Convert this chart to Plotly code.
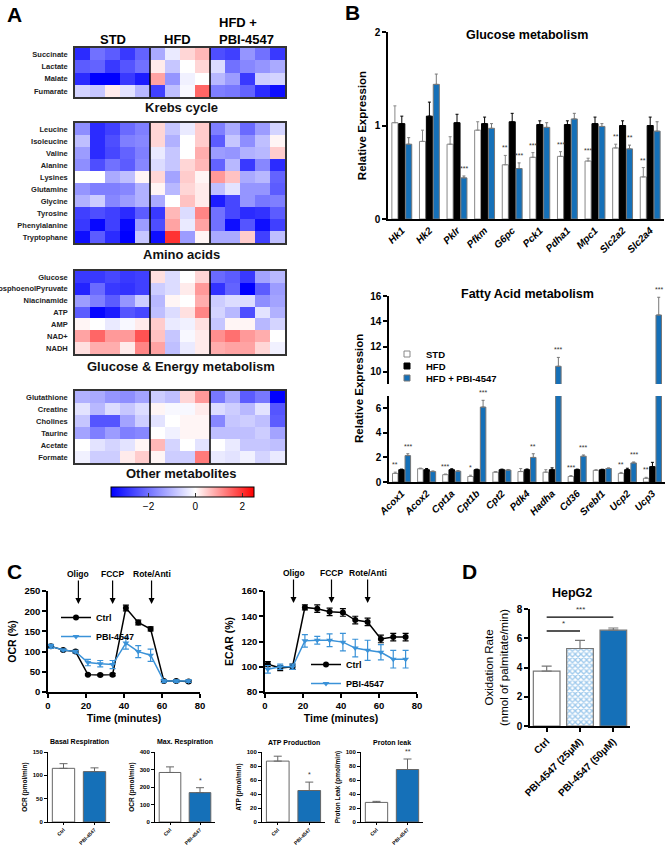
import plotly.graph_objects as go

W, H = 669, 846
FONT = "Liberation Sans, Arial, sans-serif"
BLUE = "#1570b8"
LBLUE = "#3a92d8"

# ---------------- Panel A data ----------------
groups_hm = ["STD"] * 5 + ["HFD"] * 4 + ["PBI"] * 5
krebs_rows = ["Succinate", "Lactate", "Malate", "Fumarate"]
krebs_z = [
    [-3, -2, -2.3, -2.8, -2.2, -1.2, -0.3, 0.4, 0.7, -2.5, -2.7, -1.5, -2, -2.8],
    [-2.3, -2.2, -2.8, -2.4, -2, 0.2, -0.8, 0, 0.4, -0.5, -2, -1.7, -1.5, -1.2],
    [-3, -3.6, -3.6, -2.8, -3.2, 0.9, -1.5, -0.2, 0, -1, -1.4, -2.8, -0.7, -0.6],
    [-0.6, -0.8, 0.2, -0.4, -1, -2.7, -0.9, -0.1, 1.5, -1.8, -1.9, -2.2, -3, -3.4],
]
amino_rows = ["Leucine", "Isoleucine", "Valine", "Alanine", "Lysines", "Glutamine",
              "Glycine", "Tyrosine", "Phenylalanine", "Tryptophane"]
amino_z = [
    [-1.6, -3, -2.7, -2.1, -1.8, 0.4, -0.8, -0.3, 0.5, -1.8, -1.2, -2.1, -1.4, -0.6],
    [-0.9, -3, -2.5, -1.8, -1.7, 0.4, -1.1, 0, 0.5, -2.3, -0.8, -1.6, -0.9, 0.1],
    [-1.4, -3, -2.6, -2.2, -1.8, -0.3, -0.8, 0, 0.8, -1.4, -1.5, -1.1, -1, 0.5],
    [-1.6, -2.5, -2, -2.3, -1.7, -0.5, -0.8, 0.4, 0.7, -2.2, -1, -2.8, -1.7, -3],
    [0, 0, -1.2, -0.9, 0.1, 0.4, -1.3, 0.5, 0.1, 1, 0.6, -1.2, -1, -2.2],
    [-1.5, -1.8, -1.8, -1.7, -1.1, 0.1, -1, 0.4, 0.2, -0.9, -0.4, -1.5, -1.5, -2.3],
    [-1.1, -0.7, -1.7, -1.4, -1.1, -1.2, 0, 0.6, 0.2, -3.2, -2.6, -1.5, -1.9, -1.8],
    [-2.7, -2.5, -2.7, -3, -2.3, -2.8, 0.7, -0.5, 1.2, -2, -2.6, -3, -2.9, -2.3],
    [-2.8, -3.5, -2.7, -3.5, -1.4, -2.5, 0.9, -0.3, 0.9, -2, -3.4, -2.4, -3.4, -2.7],
    [-3.4, -2.3, -3, -3.6, -0.8, -3.4, 2, -1.4, 0.1, -1.2, -1.2, 0.5, -2.7, -0.9],
]
energy_rows = ["Glucose", "PhosphoenolPyruvate", "Niacinamide", "ATP", "AMP", "NAD+", "NADH"]
energy_z = [
    [-2.8, -2.8, -2.6, -2.8, -2.7, 0.3, -0.5, 0, 0.4, -2.1, -2.3, -2.8, -1.3, -1],
    [-3.1, -2.1, -2.8, -2.9, -2.7, -0.7, -0.5, 0.2, 1, -2.9, -2.2, -3.6, -2.3, -1.4],
    [-1.4, -1.8, -2.3, -1.5, -0.7, -1, 0.1, 0, 0.8, -0.7, -0.5, -0.5, -1.6, -1.3],
    [-2.3, -3.5, -3.2, -2.4, -2.6, -0.9, -0.5, 0.3, 1.2, -0.6, -1, -2.5, -0.4, -1.1],
    [0.1, 0, -0.3, -0.1, 0.2, 0.5, -0.3, -0.2, 0.3, -0.8, 0.1, 0.1, -1, -0.6],
    [0.9, 1.5, 1, 1, 1.7, 0.6, -0.8, -0.1, 0.2, 1.1, 1.4, 1, 0.8, 0],
    [0.3, 0.8, 0.8, 0.2, 1.2, 0.9, -0.9, -0.3, 0.2, 0.8, 0.9, 0.9, 0.4, -0.2],
]
other_rows = ["Glutathione", "Creatine", "Cholines", "Taurine", "Acetate", "Formate"]
other_z = [
    [-1.1, -1.2, -1.5, -1.6, -1.3, -0.7, -0.9, 0.4, 1, -1.9, -1.2, -2.3, -1.9, -3.6],
    [-0.4, -1, -0.5, -0.8, -0.5, 0.1, -0.1, -0.1, 0.2, -0.5, -0.7, -1, -0.4, -2.4],
    [-0.8, -2.4, -2.4, -1.3, -0.7, -0.4, 0, 0.1, 0.1, -1.7, -0.8, -0.7, -0.9, -2.3],
    [-1.3, -1.8, -1.4, -1.8, -1.7, 0, -0.2, 0.1, 0.1, -0.9, -0.9, -0.9, -0.7, -1.3],
    [0, -0.4, -0.6, -0.4, 0.1, 0.7, -0.6, 0, -0.4, 0, -0.3, -0.8, -0.8, -0.9],
    [-0.2, -0.7, -0.7, 0.2, 0.5, 0.1, -0.7, -0.7, 1.3, -0.3, -0.4, -0.2, -0.6, -0.3],
]
hm_titles = ["Krebs cycle", "Amino acids", "Glucose & Energy metabolism", "Other metabolites"]
colorbar_ticks = [-2, 0, 2]

# ---------------- Panel B data ----------------
glu_genes = ["Hk1", "Hk2", "Pklr", "Pfkm", "G6pc", "Pck1", "Pdha1", "Mpc1", "Slc2a2", "Slc2a4"]
glu_std = [1.03, 0.83, 0.80, 0.95, 0.58, 0.66, 0.67, 0.62, 0.76, 0.45]
glu_std_err = [0.18, 0.12, 0.08, 0.09, 0.10, 0.05, 0.05, 0.03, 0.04, 0.10]
glu_hfd = [1.02, 1.10, 1.03, 1.02, 1.04, 1.01, 1.01, 1.02, 1.00, 1.00]
glu_hfd_err = [0.08, 0.15, 0.09, 0.07, 0.09, 0.04, 0.04, 0.07, 0.05, 0.09]
glu_pbi = [0.80, 1.44, 0.44, 0.97, 0.54, 0.98, 1.07, 0.99, 0.75, 0.94]
glu_pbi_err = [0.07, 0.11, 0.02, 0.05, 0.06, 0.05, 0.06, 0.03, 0.04, 0.10]
glu_sig_std = ["", "", "", "", "**", "***", "***", "***", "**", "**"]
glu_sig_pbi = ["", "", "***", "", "***", "", "", "", "**", ""]

fa_genes = ["Acox1", "Acox2", "Cpt1a", "Cpt1b", "Cpt2", "Pdk4", "Hadha", "Cd36", "Srebf1", "Ucp2", "Ucp3"]
fa_std = [0.70, 1.08, 0.60, 0.45, 0.80, 0.85, 0.80, 0.45, 0.95, 0.70, 0.30]
fa_std_err = [0.10, 0.05, 0.05, 0.10, 0.05, 0.25, 0.20, 0.08, 0.05, 0.08, 0.08]
fa_hfd = [1.00, 1.00, 1.00, 1.00, 1.00, 1.00, 1.00, 1.00, 1.00, 1.00, 1.25]
fa_hfd_err = [0.05, 0.10, 0.08, 0.05, 0.05, 0.06, 0.15, 0.05, 0.04, 0.12, 0.35]
fa_pbi = [2.15, 0.85, 0.88, 6.10, 0.97, 2.00, 10.45, 2.10, 1.10, 1.55, 14.5]
fa_pbi_err = [0.15, 0.05, 0.04, 0.55, 0.05, 0.30, 0.70, 0.10, 0.05, 0.08, 1.40]
fa_sig_std = ["**", "", "***", "*", "", "", "", "***", "", "**", "**"]
fa_sig_pbi = ["***", "", "", "***", "", "**", "***", "***", "", "***", "***"]
legend_names = ["STD", "HFD", "HFD + PBI-4547"]

# ---------------- Panel C data ----------------
time_min = [1.5, 8, 14.5, 21, 27.5, 34, 41, 47.5, 54, 61, 67.5, 74]
ocr_ctrl = [113, 104, 100, 43, 42, 43, 208, 172, 156, 27, 27, 26]
ocr_ctrl_err = [4, 3, 3, 2, 2, 3, 7, 6, 5, 3, 3, 3]
ocr_pbi = [113, 104, 100, 73, 70, 68, 121, 100, 91, 27, 27, 27]
ocr_pbi_err = [5, 2, 3, 8, 8, 10, 15, 15, 15, 3, 3, 3]
ecar_ctrl = [102, 99, 100, 147, 146, 143.5, 143, 137, 135.5, 122, 123.5, 123.5]
ecar_ctrl_err = [2, 2, 2, 2, 3, 3, 3, 3, 3, 3, 3, 3]
ecar_pbi = [98, 100, 100, 120.5, 121, 121, 119.5, 114.8, 113, 111.5, 106, 106]
ecar_pbi_err = [3, 2, 2, 5, 3, 5, 7, 7, 8, 6, 7, 7]
injections = ["Oligo", "FCCP", "Rote/Anti"]
inj_time_ocr = [16, 34, 54.5]
inj_time_ecar = [15, 35, 54]

small_titles = ["Basal Respiration", "Max. Respiration", "ATP Production", "Proton leak"]
small_ylabels = ["OCR (pmol/min)", "OCR (pmol/min)", "ATP (pmol/min)", "Proton Leak (pmol/min)"]
small_groups = ["Ctrl", "PBI-4547"]
small_vals = [[115, 108], [283, 168], [87, 45], [28, 75]]
small_errs = [[10, 8], [32, 28], [7, 12], [1.5, 15]]
small_sig = [["", ""], ["", "*"], ["", "*"], ["", "**"]]
small_ymax = [150, 400, 100, 100]
small_dtick = [50, 100, 20, 20]

# ---------------- Panel D data ----------------
d_groups = ["Ctrl", "PBI-4547 (25μM)", "PBI-4547 (50μM)"]
d_vals = [3.75, 5.3, 6.55]
d_errs = [0.35, 0.55, 0.15]
d_sig = [(0, 1, 6.5, "*", "#555555"), (0, 2, 7.45, "***", "black")]


def dx(a, b):
    return [a / W, b / W]


def dy(top, bot):
    return [1 - bot / H, 1 - top / H]


def px(x):
    return x / W


def py(y):
    return 1 - y / H


fig = go.Figure()
layout = dict(
    width=W, height=H, autosize=False, template="none",
    margin=dict(l=0, r=0, t=0, b=0),
    paper_bgcolor="white", plot_bgcolor="white",
    font=dict(family=FONT, color="black"),
    showlegend=True,
    barmode="group",
)
annotations = []
shapes = []


def ann(text, x, y, size, **kw):
    d = dict(text=text, xref="paper", yref="paper", x=px(x), y=py(y), showarrow=False,
             font=dict(size=size, color=kw.pop("color", "black")), xanchor=kw.pop("xanchor", "center"),
             yanchor=kw.pop("yanchor", "middle"))
    d.update(kw)
    annotations.append(d)


# ---------------- Panel A: heatmaps ----------------
hm_blocks = [(krebs_rows, krebs_z, 48, 97), (amino_rows, amino_z, 123, 243),
             (energy_rows, energy_z, 271, 354), (other_rows, other_z, 391, 463)]
title_y = [107, 254, 366, 473]
for i, (rows, z, top, bot) in enumerate(hm_blocks):
    n = i + 1
    xa, ya = ("x" if n == 1 else f"x{n}"), ("y" if n == 1 else f"y{n}")
    fig.add_trace(go.Heatmap(z=z, x=list(range(len(groups_hm))), y=rows, coloraxis="coloraxis",
                             xaxis=xa, yaxis=ya, hoverinfo="skip"))
    layout[f"xaxis{'' if n == 1 else n}"] = dict(
        domain=dx(75, 285), anchor=ya, showticklabels=False, ticks="", showgrid=False,
        zeroline=False, showline=True, mirror=True, linecolor="#333", linewidth=1.5,
        range=[-0.5, 13.5], automargin=False)
    layout[f"yaxis{'' if n == 1 else n}"] = dict(
        domain=dy(top, bot), anchor=xa, autorange="reversed", tickvals=rows,
        ticktext=[f"<b>{r}</b>" for r in rows], tickfont=dict(size=7.5, color="#222"),
        ticks="", showgrid=False, zeroline=False, showline=True, mirror=True,
        linecolor="#333", linewidth=1.5, automargin=False, ticklabelstandoff=4)
    for xv in (4.5, 8.5):
        shapes.append(dict(type="line", xref=xa, yref=f"{ya} domain", x0=xv, x1=xv, y0=0, y1=1,
                           line=dict(color="black", width=1.5)))
    ann(f"<b>{hm_titles[i]}</b>", 181, title_y[i], 13, color="#111")

layout["coloraxis"] = dict(
    cmin=-3.6, cmax=2.5,
    colorscale=[[0, "rgb(0,0,255)"], [3.6 / 6.1, "rgb(255,255,255)"], [1, "rgb(255,0,0)"]],
    colorbar=dict(orientation="h", x=px(182.5), xanchor="center", y=py(502), yanchor="middle",
                  len=143 / W, lenmode="fraction", thickness=10, thicknessmode="pixels",
                  tickvals=colorbar_ticks, ticks="inside", ticklen=4, tickcolor="#333",
                  outlinewidth=1, outlinecolor="black", tickfont=dict(size=10), ypad=0, xpad=0))

ann("<b>STD</b>", 113, 39, 13)
ann("<b>HFD</b>", 177, 39, 13)
ann("<b>HFD +<br>PBI-4547</b>", 217, 31, 13, xanchor="left", align="left")

# ---------------- Panel B: glucose ----------------
bar_styles = [("white", "#888888", "#888888"), ("black", "black", "black"), (BLUE, "#777777", "#777777")]
glu_data = [(glu_std, glu_std_err), (glu_hfd, glu_hfd_err), (glu_pbi, glu_pbi_err)]
for name, (fc, lc, ec), (v, e) in zip(legend_names, bar_styles, glu_data):
    fig.add_trace(go.Bar(x=glu_genes, y=v, xaxis="x5", yaxis="y5",
                         marker=dict(color=fc, line=dict(color=lc, width=1)),
                         error_y=dict(type="data", array=e, arrayminus=[0] * len(e), symmetric=False,
                                      color=ec, thickness=1, width=1.5),
                         showlegend=False, name=name))
axis_common = dict(showgrid=False, zeroline=False, showline=True, linecolor="black", linewidth=1.5,
                   ticks="outside", ticklen=4, tickwidth=1.5, tickcolor="black", automargin=False)
layout["xaxis5"] = dict(axis_common, domain=dx(388, 664), anchor="y5", tickangle=-45,
                        tickvals=glu_genes, ticktext=[f"<b><i>{g}</i></b>" for g in glu_genes],
                        tickfont=dict(size=10), ticks="", range=[-0.5, len(glu_genes) - 0.5])
layout["yaxis5"] = dict(axis_common, domain=dy(32, 219), anchor="x5", range=[0, 2], tickvals=[0, 1, 2],
                        ticktext=["<b>0</b>", "<b>1</b>", "<b>2</b>"], tickfont=dict(size=10),
                        title=dict(text="<b>Relative Expression</b>", font=dict(size=11.5), standoff=6))
layout["bargap"] = 0.25
layout["bargroupgap"] = 0.12
ann("<b>Glucose metabolism</b>", 527, 35, 12.5)
for sigs, vals, errs, shift in [(glu_sig_std, glu_std, glu_std_err, -6.9), (glu_sig_pbi, glu_pbi, glu_pbi_err, 6.9)]:
    for g, s, v, e in zip(glu_genes, sigs, vals, errs):
        if s:
            annotations.append(dict(text=s, xref="x5", yref="y5", x=g, y=v + e, xshift=shift, yshift=2,
                                    showarrow=False, font=dict(size=7, color="#333"),
                                    xanchor="center", yanchor="bottom"))

# ---------------- Panel B: fatty acid (broken axis) ----------------
fa_data = [(fa_std, fa_std_err), (fa_hfd, fa_hfd_err), (fa_pbi, fa_pbi_err)]
for ya in ["y6", "y7"]:
    for name, (fc, lc, ec), (v, e) in zip(legend_names, bar_styles, fa_data):
        fig.add_trace(go.Bar(x=fa_genes, y=v, xaxis="x6", yaxis=ya,
                             marker=dict(color=fc, line=dict(color=lc, width=1)),
                             error_y=dict(type="data", array=e, arrayminus=[0] * len(e), symmetric=False,
                                          color=ec, thickness=1, width=1.5),
                             showlegend=False, name=name))
layout["xaxis6"] = dict(axis_common, domain=dx(389, 665), anchor="y6", tickangle=-45,
                        tickvals=fa_genes, ticktext=[f"<b><i>{g}</i></b>" for g in fa_genes],
                        tickfont=dict(size=10), ticks="", range=[-0.5, len(fa_genes) - 0.5])
layout["yaxis6"] = dict(axis_common, domain=dy(396, 482), anchor="x6", range=[0, 7],
                        tickvals=[0, 2, 4, 6], ticktext=["<b>0</b>", "<b>2</b>", "<b>4</b>", "<b>6</b>"],
                        tickfont=dict(size=10))
layout["yaxis7"] = dict(axis_common, domain=dy(296, 384), anchor="x6", range=[9.05, 16],
                        tickvals=[10, 12, 14, 16],
                        ticktext=["<b>10</b>", "<b>12</b>", "<b>14</b>", "<b>16</b>"], tickfont=dict(size=10))
ann("<b>Relative Expression</b>", 359, 389, 11.5, textangle=-90)
ann("<b>Fatty Acid metabolism</b>", 527, 294, 12.5)
for sigs, vals, errs, shift in [(fa_sig_std, fa_std, fa_std_err, -6.3), (fa_sig_pbi, fa_pbi, fa_pbi_err, 6.3)]:
    for g, s, v, e in zip(fa_genes, sigs, vals, errs):
        if s:
            top = v + e
            annotations.append(dict(text=s, xref="x6", yref="y7" if top > 9 else "y6", x=g, y=top,
                                    xshift=shift, yshift=2, showarrow=False,
                                    font=dict(size=7, color="#333"), xanchor="center", yanchor="bottom"))
# legend for the bar groups (swatch + label)
for k, (name, (fc, lc, ec)) in enumerate(zip(legend_names, bar_styles)):
    yc = 354 + 12 * k
    shapes.append(dict(type="rect", xref="paper", yref="paper", x0=px(404), x1=px(410),
                       y0=py(yc + 3), y1=py(yc - 3), fillcolor=fc,
                       line=dict(color=lc if k != 1 else "black", width=1)))
    ann(f"<b>{name}</b>", 424, yc, 9.5, xanchor="left")

# ---------------- Panel C: OCR & ECAR ----------------
def line_traces(xa, ya, ctrl, ctrl_e, pbi, pbi_e, leg):
    fig.add_trace(go.Scatter(x=time_min, y=ctrl, xaxis=xa, yaxis=ya, mode="lines+markers", name="<b>Ctrl</b>",
                             line=dict(color="black", width=1.5), marker=dict(symbol="circle", size=6, color="black"),
                             error_y=dict(type="data", array=ctrl_e, color="black", thickness=1.2, width=3),
                             legend=leg))
    fig.add_trace(go.Scatter(x=time_min, y=pbi, xaxis=xa, yaxis=ya, mode="lines+markers", name="<b>PBI-4547</b>",
                             line=dict(color=LBLUE, width=1.5),
                             marker=dict(symbol="triangle-down", size=6, color=LBLUE),
                             error_y=dict(type="data", array=pbi_e, color=LBLUE, thickness=1.2, width=3),
                             legend=leg))


line_traces("x8", "y8", ocr_ctrl, ocr_ctrl_err, ocr_pbi, ocr_pbi_err, "legend")
line_traces("x9", "y9", ecar_ctrl, ecar_ctrl_err, ecar_pbi, ecar_pbi_err, "legend2")
for xa, ya, dom, yr, ytitle, dt in [("x8", "y8", (48, 200), [0, 250], "OCR (%)", 50),
                                    ("x9", "y9", (265, 417), [80, 160], "ECAR (%)", 20)]:
    n = xa[1:]
    layout[f"xaxis{n}"] = dict(axis_common, domain=dx(*dom), anchor=ya, range=[0, 80], dtick=20,
                               tickfont=dict(size=9.5), tickprefix="<b>", ticksuffix="</b>",
                               title=dict(text="<b>Time (minutes)</b>", font=dict(size=10.5), standoff=4))
    layout[f"yaxis{n}"] = dict(axis_common, domain=dy(591, 692), anchor=xa, range=yr, dtick=dt,
                               tickfont=dict(size=9.5), tickprefix="<b>", ticksuffix="</b>",
                               title=dict(text=f"<b>{ytitle}</b>", font=dict(size=10.5), standoff=6))
for xa, ya, times, ytip in [("x8", "y8", inj_time_ocr, 218), ("x9", "y9", inj_time_ecar, 150.5)]:
    for lab, t in zip(injections, times):
        annotations.append(dict(text=f"<b>{lab}</b>", xref=xa, yref=ya, x=t, y=ytip, ax=0, ay=-30,
                                showarrow=True, arrowhead=2, arrowsize=1, arrowwidth=1.2,
                                arrowcolor="black", font=dict(size=8.5)))
layout["legend"] = dict(x=px(56), y=py(603), xanchor="left", yanchor="top", bgcolor="rgba(0,0,0,0)",
                        font=dict(size=9), itemwidth=30, tracegroupgap=0)
layout["legend2"] = dict(x=px(306), y=py(650), xanchor="left", yanchor="top", bgcolor="rgba(0,0,0,0)",
                         font=dict(size=9), itemwidth=30, tracegroupgap=0)

# ---------------- Panel C: small bars ----------------
small_x = [(48, 110), (155, 215), (262, 325), (361, 423)]
for i in range(4):
    n = 10 + i
    xa, ya = f"x{n}", f"y{n}"
    fig.add_trace(go.Bar(x=small_groups, y=small_vals[i], xaxis=xa, yaxis=ya, showlegend=False,
                         marker=dict(color=["white", BLUE], line=dict(color="#666", width=1)),
                         error_y=dict(type="data", array=small_errs[i], arrayminus=[0, 0], symmetric=False,
                                      color="#666", thickness=1, width=4), width=0.72))
    layout[f"xaxis{n}"] = dict(axis_common, domain=dx(*small_x[i]), anchor=ya, tickangle=-45,
                               tickfont=dict(size=5), tickprefix="<b>", ticksuffix="</b>", ticks="outside",
                               ticklen=2, tickwidth=1, linewidth=1, range=[-0.5, 1.5])
    layout[f"yaxis{n}"] = dict(axis_common, domain=dy(752, 822), anchor=xa, range=[0, small_ymax[i]],
                               dtick=small_dtick[i], tickfont=dict(size=6), tickprefix="<b>", ticksuffix="</b>",
                               ticklen=3, tickwidth=1, linewidth=1,
                               title=dict(text=f"<b>{small_ylabels[i]}</b>", font=dict(size=6.5), standoff=4))
    annotations.append(dict(text=f"<b>{small_titles[i]}</b>", xref=f"{xa} domain", yref="paper", x=0.5,
                            y=py(742), showarrow=False, font=dict(size=7), xanchor="center", yanchor="middle"))
    for g, s, v, e in zip(small_groups, small_sig[i], small_vals[i], small_errs[i]):
        if s:
            annotations.append(dict(text=s, xref=xa, yref=ya, x=g, y=v + e, yshift=2, showarrow=False,
                                    xanchor="center", yanchor="bottom", font=dict(size=7, color="#333")))

# ---------------- Panel D ----------------
fig.add_trace(go.Bar(x=d_groups, y=d_vals, xaxis="x14", yaxis="y14", showlegend=False, width=0.8,
                     marker=dict(color=["white", "#9cc8ec", BLUE], line=dict(color="#777", width=1.2),
                                 pattern=dict(shape=["", "x", ""], fgcolor=BLUE, bgcolor="#cfe3f5",
                                              size=4, solidity=0.55)),
                     error_y=dict(type="data", array=d_errs, arrayminus=[0, 0, 0], symmetric=False,
                                  color="#777", thickness=1.2, width=5)))
layout["xaxis14"] = dict(axis_common, domain=dx(530, 630), anchor="y14", tickangle=-45,
                         tickfont=dict(size=10), tickprefix="<b>", ticksuffix="</b>", ticklen=4,
                         range=[-0.5, 2.5])
layout["yaxis14"] = dict(axis_common, domain=dy(609, 726), anchor="x14", range=[0, 8], dtick=2,
                         tickfont=dict(size=10), tickprefix="<b>", ticksuffix="</b>",
                         title=dict(text="Oxidation Rate<br>(nmol of palmitate/min)", font=dict(size=11.5),
                                    standoff=6))
ann("<b>HepG2</b>", 572, 593, 12.5)
for a, b, yv, s, col in d_sig:
    shapes.append(dict(type="line", xref="x14", yref="y14", x0=d_groups[a], x1=d_groups[b], y0=yv, y1=yv,
                       line=dict(color=col, width=2 if col != "black" else 1.3)))
    annotations.append(dict(text=s, xref="x14", yref="y14", x=(a + b) / 2, y=yv, yshift=1, showarrow=False,
                            xanchor="center", yanchor="bottom", font=dict(size=8, color="#333")))

# ---------------- panel letters ----------------
for L, x, y in [("A", 14, 14), ("B", 352, 13), ("C", 14, 571), ("D", 469, 571)]:
    ann(f"<b>{L}</b>", x, y, 21)

layout["annotations"] = annotations
layout["shapes"] = shapes
fig.update_layout(**layout)
fig.write_html("out.html", config={"displayModeBar": False},
               post_script="document.body.style.margin='0px';")
